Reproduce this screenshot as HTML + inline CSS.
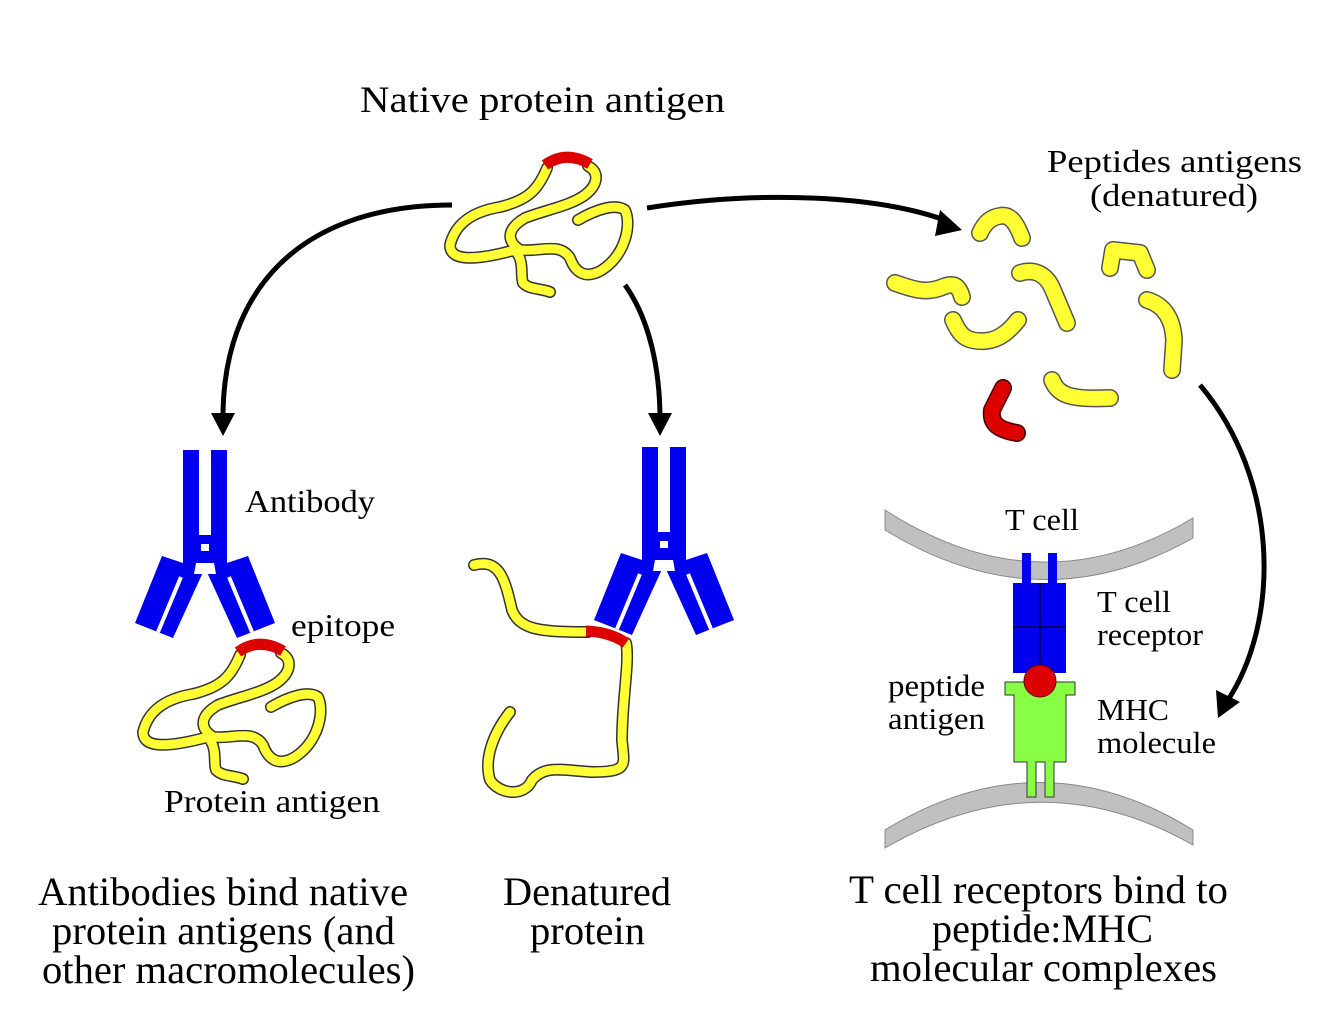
<!DOCTYPE html>
<html><head><meta charset="utf-8"><style>html,body{margin:0;padding:0;background:#fff}svg{display:block}text{font-family:"Liberation Serif",serif;fill:#000}</style></head>
<body>
<svg width="1334" height="1033" viewBox="0 0 1334 1033" xmlns="http://www.w3.org/2000/svg">
<defs>
<g id="prot">
<path d="M547,168 C538,190 528,200 500,207 C470,212 455,225 450,245 C450,260 470,262 515,250 C525,262 520,275 523,283 C530,290 540,288 550,292 M588,166 C600,172 598,185 585,195 C570,206 545,210 525,218 C508,228 505,240 520,250 C540,252 560,242 570,258 C575,272 585,280 602,270 C625,255 632,225 625,210 C615,203 595,210 578,220" fill="none" stroke="#333" stroke-width="12" stroke-linecap="round" stroke-linejoin="round"/>
<path d="M547,168 C538,190 528,200 500,207 C470,212 455,225 450,245 C450,260 470,262 515,250 C525,262 520,275 523,283 C530,290 540,288 550,292 M588,166 C600,172 598,185 585,195 C570,206 545,210 525,218 C508,228 505,240 520,250 C540,252 560,242 570,258 C575,272 585,280 602,270 C625,255 632,225 625,210 C615,203 595,210 578,220" fill="none" stroke="#ffff33" stroke-width="9" stroke-linecap="round" stroke-linejoin="round"/>
<path d="M545,165 Q566,150 590,164" fill="none" stroke="#dd0000" stroke-width="11"/>
</g>
<g id="ab" fill="#0000ee">
<rect x="183" y="450" width="16" height="100"/>
<rect x="211" y="450" width="16" height="100"/>
<rect x="183" y="535" width="44" height="35"/>
<rect x="201" y="544" width="8" height="7" fill="#fff"/>
<polygon points="162,556 204,570 173,638 135,623"/>
<polygon points="248,556 206,570 237,638 275,623"/>
<polygon points="196,563 214,563 216,574 194,574" fill="#fff"/>
<line x1="181" y1="577" x2="158" y2="632" stroke="#fff" stroke-width="4"/>
<line x1="229" y1="577" x2="252" y2="632" stroke="#fff" stroke-width="4"/>
</g>
</defs>

<!-- arrows -->
<g fill="none" stroke="#000" stroke-width="5">
<path d="M452,205 C300,205 222,290 223,420"/>
<path d="M625,285 C650,320 660,370 660,420"/>
<path d="M647,208 C760,190 880,195 950,222"/>
<path d="M1200,385 C1280,480 1280,620 1228,700"/>
</g>
<polygon points="211,413 235,413 223,436" fill="#000"/>
<polygon points="648,413 672,413 660,436" fill="#000"/>
<polygon points="940,210 962,230 935,236" fill="#000"/>
<polygon points="1216,690 1240,702 1218,718" fill="#000"/>

<use href="#prot"/>
<use href="#prot" transform="translate(-307,487)"/>
<use href="#ab"/>
<use href="#ab" transform="translate(459,-3)"/>

<!-- denatured protein -->
<g fill="none" stroke-linecap="round" stroke-linejoin="round">
<path d="M474,565 C500,558 505,580 512,610 C520,630 540,632 588,632 M626,643 C630,660 622,700 622,740 C624,765 630,772 592,772 C560,770 545,765 532,780 C525,797 500,795 490,780 C484,760 492,735 510,712" stroke="#333" stroke-width="12"/>
<path d="M474,565 C500,558 505,580 512,610 C520,630 540,632 588,632 M626,643 C630,660 622,700 622,740 C624,765 630,772 592,772 C560,770 545,765 532,780 C525,797 500,795 490,780 C484,760 492,735 510,712" stroke="#ffff33" stroke-width="9"/>
<path d="M586,631 Q610,632 626,643" stroke="#dd0000" stroke-width="11" stroke-linecap="butt"/>
</g>

<!-- peptides -->
<g fill="none" stroke-linecap="round" stroke-linejoin="round">
<g stroke="#555" stroke-width="18">
<path d="M980,233 C985,222 992,217 1000,216 C1010,214 1016,222 1022,238"/>
<path d="M1110,268 L1113,250 L1140,253 L1147,270"/>
<path d="M895,283 C915,290 925,293 940,288 C952,283 958,283 962,297"/>
<path d="M1020,273 C1035,268 1047,275 1053,290 L1067,323"/>
<path d="M953,320 C960,335 965,342 985,341 C1000,340 1010,330 1018,320"/>
<path d="M1147,300 C1165,305 1173,320 1174,340 L1172,370"/>
<path d="M1052,380 C1058,395 1070,400 1110,398"/>
<path d="M1003,388 L992,410 C990,425 1000,430 1017,433" stroke="#400"/>
</g>
<g stroke="#ffff33" stroke-width="15">
<path d="M980,233 C985,222 992,217 1000,216 C1010,214 1016,222 1022,238"/>
<path d="M1110,268 L1113,250 L1140,253 L1147,270"/>
<path d="M895,283 C915,290 925,293 940,288 C952,283 958,283 962,297"/>
<path d="M1020,273 C1035,268 1047,275 1053,290 L1067,323"/>
<path d="M953,320 C960,335 965,342 985,341 C1000,340 1010,330 1018,320"/>
<path d="M1147,300 C1165,305 1173,320 1174,340 L1172,370"/>
<path d="M1052,380 C1058,395 1070,400 1110,398"/>
<path d="M1003,388 L992,410 C990,425 1000,430 1017,433" stroke="#dd0000"/>
</g>
</g>

<!-- membranes -->
<path d="M885,510 Q1040,610 1193,518 L1193,538 Q1040,625 885,530 Z" fill="#c0c0c0" stroke="#888" stroke-width="1"/>
<path d="M885,830 Q1040,735 1193,830 L1193,845 Q1040,758 885,848 Z" fill="#c0c0c0" stroke="#888" stroke-width="1"/>

<!-- TCR -->
<rect x="1022" y="553" width="9" height="32" fill="#0000ee"/>
<rect x="1048" y="553" width="9" height="32" fill="#0000ee"/>
<rect x="1013" y="583" width="53" height="90" fill="#0000ee"/>
<line x1="1040" y1="583" x2="1040" y2="673" stroke="#000" stroke-width="1"/>
<line x1="1013" y1="627" x2="1066" y2="627" stroke="#000" stroke-width="1"/>
<!-- MHC -->
<path d="M1027,797 L1027,762 L1014,762 L1014,695 L1005,695 L1005,682 L1075,682 L1075,695 L1066,695 L1066,762 L1054,762 L1054,797 L1045,797 L1045,762 L1036,762 L1036,797 Z" fill="#88ff44" stroke="#333" stroke-width="1"/>
<circle cx="1040" cy="681" r="16" fill="#dd0000" stroke="#600" stroke-width="1"/>

<!-- text -->
<g lengthAdjust="spacingAndGlyphs">
<text x="360" y="112" font-size="37" textLength="365" lengthAdjust="spacingAndGlyphs">Native protein antigen</text>
<text x="1047" y="172" font-size="32" textLength="255" lengthAdjust="spacingAndGlyphs">Peptides antigens</text>
<text x="1090" y="206" font-size="32" textLength="168" lengthAdjust="spacingAndGlyphs">(denatured)</text>
<text x="245" y="512" font-size="32" textLength="130" lengthAdjust="spacingAndGlyphs">Antibody</text>
<text x="291" y="636" font-size="32" textLength="104" lengthAdjust="spacingAndGlyphs">epitope</text>
<text x="164" y="812" font-size="32" textLength="216" lengthAdjust="spacingAndGlyphs">Protein antigen</text>
<text x="1005" y="530" font-size="31" textLength="74" lengthAdjust="spacingAndGlyphs">T cell</text>
<text x="1097" y="612" font-size="31" textLength="74" lengthAdjust="spacingAndGlyphs">T cell</text>
<text x="1097" y="645" font-size="31" textLength="106" lengthAdjust="spacingAndGlyphs">receptor</text>
<text x="888" y="696" font-size="31" textLength="97" lengthAdjust="spacingAndGlyphs">peptide</text>
<text x="888" y="729" font-size="31" textLength="97" lengthAdjust="spacingAndGlyphs">antigen</text>
<text x="1097" y="720" font-size="31" textLength="72" lengthAdjust="spacingAndGlyphs">MHC</text>
<text x="1097" y="753" font-size="31" textLength="119" lengthAdjust="spacingAndGlyphs">molecule</text>
<text x="38" y="905" font-size="40" textLength="370" lengthAdjust="spacingAndGlyphs">Antibodies bind native</text>
<text x="52" y="944" font-size="40" textLength="343" lengthAdjust="spacingAndGlyphs">protein antigens (and</text>
<text x="42" y="983" font-size="40" textLength="373" lengthAdjust="spacingAndGlyphs">other macromolecules)</text>
<text x="503" y="905" font-size="40" textLength="168" lengthAdjust="spacingAndGlyphs">Denatured</text>
<text x="530" y="944" font-size="40" textLength="115" lengthAdjust="spacingAndGlyphs">protein</text>
<text x="849" y="903" font-size="40" textLength="379" lengthAdjust="spacingAndGlyphs">T cell receptors bind to</text>
<text x="932" y="942" font-size="40" textLength="221" lengthAdjust="spacingAndGlyphs">peptide:MHC</text>
<text x="870" y="981" font-size="40" textLength="347" lengthAdjust="spacingAndGlyphs">molecular complexes</text>
</g>
</svg>
</body></html>
